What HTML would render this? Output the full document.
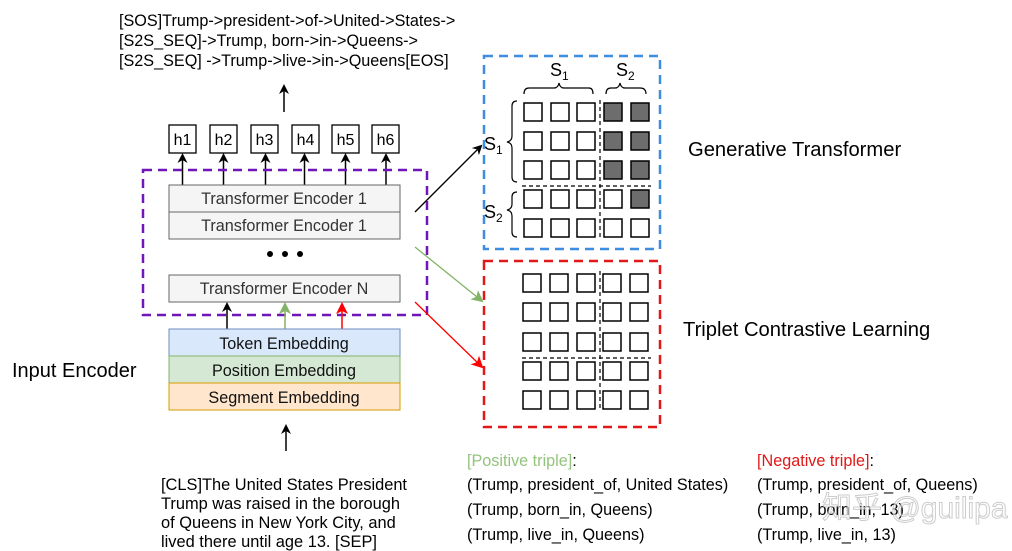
<!DOCTYPE html>
<html><head><meta charset="utf-8"><style>
body{margin:0;background:#fff;}
svg{display:block;font-family:"Liberation Sans","Noto Sans CJK SC",sans-serif;}
</style></head><body>
<svg width="1012" height="551" viewBox="0 0 1012 551" xmlns="http://www.w3.org/2000/svg">
<defs>
<marker id="ak" markerWidth="10" markerHeight="10" refX="8" refY="5" orient="auto" markerUnits="userSpaceOnUse"><path d="M0,0 L10,5 L0,10 L3,5 z" fill="#000"/></marker>
<marker id="ag" markerWidth="12" markerHeight="12" refX="10" refY="6" orient="auto" markerUnits="userSpaceOnUse"><path d="M0,0 L12,6 L0,12 L3,6 z" fill="#82b366"/></marker>
<marker id="ar" markerWidth="12" markerHeight="12" refX="10" refY="6" orient="auto" markerUnits="userSpaceOnUse"><path d="M0,0 L12,6 L0,12 L3,6 z" fill="#f00"/></marker>
</defs>
<g font-size="16.2" fill="#000">
<text x="119" y="26">[SOS]Trump-&gt;president-&gt;of-&gt;United-&gt;States-&gt;</text>
<text x="119" y="46">[S2S_SEQ]-&gt;Trump, born-&gt;in-&gt;Queens-&gt;</text>
<text x="119" y="66">[S2S_SEQ] -&gt;Trump-&gt;live-&gt;in-&gt;Queens[EOS]</text>
</g>
<line x1="284" y1="112" x2="284" y2="86" stroke="#000" stroke-width="1.5" marker-end="url(#ak)"/>
<g font-size="16" text-anchor="middle">
<rect x="169" y="125" width="27" height="28" fill="#fff" stroke="#000" stroke-width="1.3"/><text x="182.5" y="145">h1</text>
<rect x="210" y="125" width="27" height="28" fill="#fff" stroke="#000" stroke-width="1.3"/><text x="223.5" y="145">h2</text>
<rect x="251" y="125" width="27" height="28" fill="#fff" stroke="#000" stroke-width="1.3"/><text x="264.5" y="145">h3</text>
<rect x="292" y="125" width="27" height="28" fill="#fff" stroke="#000" stroke-width="1.3"/><text x="305.5" y="145">h4</text>
<rect x="332" y="125" width="27" height="28" fill="#fff" stroke="#000" stroke-width="1.3"/><text x="345.5" y="145">h5</text>
<rect x="372" y="125" width="27" height="28" fill="#fff" stroke="#000" stroke-width="1.3"/><text x="385.5" y="145">h6</text>
</g>
<g stroke="#000" stroke-width="1.5">
<line x1="182.5" y1="185" x2="182.5" y2="155" marker-end="url(#ak)"/>
<line x1="223.5" y1="185" x2="223.5" y2="155" marker-end="url(#ak)"/>
<line x1="265.5" y1="185" x2="265.5" y2="155" marker-end="url(#ak)"/>
<line x1="304.5" y1="185" x2="304.5" y2="155" marker-end="url(#ak)"/>
<line x1="345.5" y1="185" x2="345.5" y2="155" marker-end="url(#ak)"/>
<line x1="386" y1="185" x2="386" y2="155" marker-end="url(#ak)"/>
</g>
<rect x="143" y="170" width="284" height="145" fill="none" stroke="#7016b8" stroke-width="2.5" stroke-dasharray="9,6"/>
<g font-size="16.2" text-anchor="middle" fill="#333">
<rect x="169" y="185" width="231" height="27" fill="#f5f5f5" stroke="#666"/><text x="284" y="204">Transformer Encoder 1</text>
<rect x="169" y="212" width="231" height="27" fill="#f5f5f5" stroke="#666"/><text x="284" y="231">Transformer Encoder 1</text>
<rect x="169" y="275" width="231" height="27" fill="#f5f5f5" stroke="#666"/><text x="284" y="294">Transformer Encoder N</text>
</g>
<circle cx="270" cy="254" r="3" fill="#000"/><circle cx="285" cy="254" r="3" fill="#000"/><circle cx="300" cy="254" r="3" fill="#000"/>
<line x1="227" y1="329" x2="227" y2="304" stroke="#000" stroke-width="1.5" marker-end="url(#ak)"/>
<line x1="285" y1="329" x2="285" y2="304" stroke="#82b366" stroke-width="1.5" marker-end="url(#ag)"/>
<line x1="342" y1="329" x2="342" y2="304" stroke="#f00" stroke-width="1.5" marker-end="url(#ar)"/>
<g font-size="16.2" text-anchor="middle" fill="#111">
<rect x="169" y="329" width="231" height="27" fill="#dae8fc" stroke="#6c8ebf"/><text x="284" y="349">Token Embedding</text>
<rect x="169" y="356" width="231" height="27" fill="#d5e8d4" stroke="#82b366"/><text x="284" y="376">Position Embedding</text>
<rect x="169" y="383" width="231" height="27" fill="#ffe6cc" stroke="#d79b00"/><text x="284" y="403">Segment Embedding</text>
</g>
<text x="12" y="377" font-size="20">Input Encoder</text>
<line x1="286" y1="451" x2="286" y2="426" stroke="#000" stroke-width="1.5" marker-end="url(#ak)"/>
<g font-size="16.4">
<text x="161" y="490">[CLS]The United States President</text>
<text x="161" y="509">Trump was raised in the borough</text>
<text x="161" y="528">of Queens in New York City, and</text>
<text x="161" y="547">lived there until age 13.  [SEP]</text>
</g>
<line x1="415" y1="212" x2="481" y2="146" stroke="#000" stroke-width="1.3" marker-end="url(#ak)"/>
<line x1="415" y1="247" x2="482" y2="301" stroke="#82b366" stroke-width="1.3" marker-end="url(#ag)"/>
<line x1="415" y1="302" x2="482" y2="367" stroke="#f00" stroke-width="1.3" marker-end="url(#ar)"/>
<rect x="484" y="56" width="176" height="193" fill="none" stroke="#3d8ee0" stroke-width="2.5" stroke-dasharray="9,6"/>
<g font-size="18">
<text x="550" y="76">S<tspan font-size="12" dy="4">1</tspan></text>
<text x="616" y="76">S<tspan font-size="12" dy="4">2</tspan></text>
<text x="484" y="150">S<tspan font-size="12" dy="4">1</tspan></text>
<text x="484" y="218">S<tspan font-size="12" dy="4">2</tspan></text>
</g>
<g fill="none" stroke="#000" stroke-width="1.2">
<path d="M524,94 Q524,88 529,88 L554,88 Q558,88 559,83 Q560,88 564,88 L589,88 Q593,88 593,94"/>
<path d="M606,94 Q606,88 611,88 L615,88 Q619,88 620,83 Q621,88 625,88 L640,88 Q646,88 646,94"/>
<path d="M517,101 Q512,101 512,106 L512,136 Q512,141 507,142 Q512,143 512,148 L512,177 Q512,182 517,182"/>
<path d="M517,192 Q512,192 512,197 L512,204 Q512,209 507,210 Q512,211 512,216 L512,232 Q512,237 517,237"/>
</g>
<g stroke="#000" stroke-width="1.5" fill="#fff">
<rect x="524" y="103" width="18" height="18"/><rect x="551" y="103" width="18" height="18"/><rect x="577" y="103" width="18" height="18"/><rect x="604" y="103" width="18" height="18" fill="#6d6d6d"/><rect x="631" y="103" width="18" height="18" fill="#6d6d6d"/>
<rect x="524" y="132" width="18" height="18"/><rect x="551" y="132" width="18" height="18"/><rect x="577" y="132" width="18" height="18"/><rect x="604" y="132" width="18" height="18" fill="#6d6d6d"/><rect x="631" y="132" width="18" height="18" fill="#6d6d6d"/>
<rect x="524" y="161" width="18" height="18"/><rect x="551" y="161" width="18" height="18"/><rect x="577" y="161" width="18" height="18"/><rect x="604" y="161" width="18" height="18" fill="#6d6d6d"/><rect x="631" y="161" width="18" height="18" fill="#6d6d6d"/>
<rect x="524" y="190" width="18" height="18"/><rect x="551" y="190" width="18" height="18"/><rect x="577" y="190" width="18" height="18"/><rect x="604" y="190" width="18" height="18"/><rect x="631" y="190" width="18" height="18" fill="#6d6d6d"/>
<rect x="524" y="219" width="18" height="18"/><rect x="551" y="219" width="18" height="18"/><rect x="577" y="219" width="18" height="18"/><rect x="604" y="219" width="18" height="18"/><rect x="631" y="219" width="18" height="18"/>
</g>
<g stroke="#000" stroke-width="1.2" stroke-dasharray="4,3">
<line x1="600" y1="100" x2="600" y2="240"/><line x1="522" y1="186" x2="651" y2="186"/>
<line x1="600" y1="271" x2="600" y2="411"/><line x1="522" y1="358" x2="651" y2="358"/>
</g>
<rect x="484" y="261" width="176" height="166" fill="none" stroke="#e01818" stroke-width="2.5" stroke-dasharray="9,6"/>
<g stroke="#000" stroke-width="1.5" fill="#fff">
<rect x="523" y="274" width="18" height="18"/><rect x="550" y="274" width="18" height="18"/><rect x="577" y="274" width="18" height="18"/><rect x="603" y="274" width="18" height="18"/><rect x="630" y="274" width="18" height="18"/>
<rect x="523" y="303" width="18" height="18"/><rect x="550" y="303" width="18" height="18"/><rect x="577" y="303" width="18" height="18"/><rect x="603" y="303" width="18" height="18"/><rect x="630" y="303" width="18" height="18"/>
<rect x="523" y="333" width="18" height="18"/><rect x="550" y="333" width="18" height="18"/><rect x="577" y="333" width="18" height="18"/><rect x="603" y="333" width="18" height="18"/><rect x="630" y="333" width="18" height="18"/>
<rect x="523" y="362" width="18" height="18"/><rect x="550" y="362" width="18" height="18"/><rect x="577" y="362" width="18" height="18"/><rect x="603" y="362" width="18" height="18"/><rect x="630" y="362" width="18" height="18"/>
<rect x="523" y="391" width="18" height="18"/><rect x="550" y="391" width="18" height="18"/><rect x="577" y="391" width="18" height="18"/><rect x="603" y="391" width="18" height="18"/><rect x="630" y="391" width="18" height="18"/>
</g>
<text x="688" y="156" font-size="20.2">Generative Transformer</text>
<text x="683" y="336" font-size="20.2">Triplet Contrastive Learning</text>
<g font-size="16.2">
<text x="467" y="466"><tspan fill="#93c47d">[Positive triple]</tspan>:</text>
<text x="467" y="490">(Trump, president_of, United States)</text>
<text x="467" y="515">(Trump, born_in, Queens)</text>
<text x="467" y="540">(Trump, live_in, Queens)</text>
<text x="757" y="466"><tspan fill="#e01818">[Negative triple]</tspan>:</text>
<text x="757" y="490">(Trump, president_of, Queens)</text>
<text x="757" y="515">(Trump, born_in, 13)</text>
<text x="757" y="540">(Trump, live_in, 13)</text>
</g>
<text x="822" y="518" font-size="30" fill="#fff" fill-opacity="0.6" stroke="#999" stroke-opacity="0.5" stroke-width="1">知乎 @guilipa</text>
</svg>
</body></html>
